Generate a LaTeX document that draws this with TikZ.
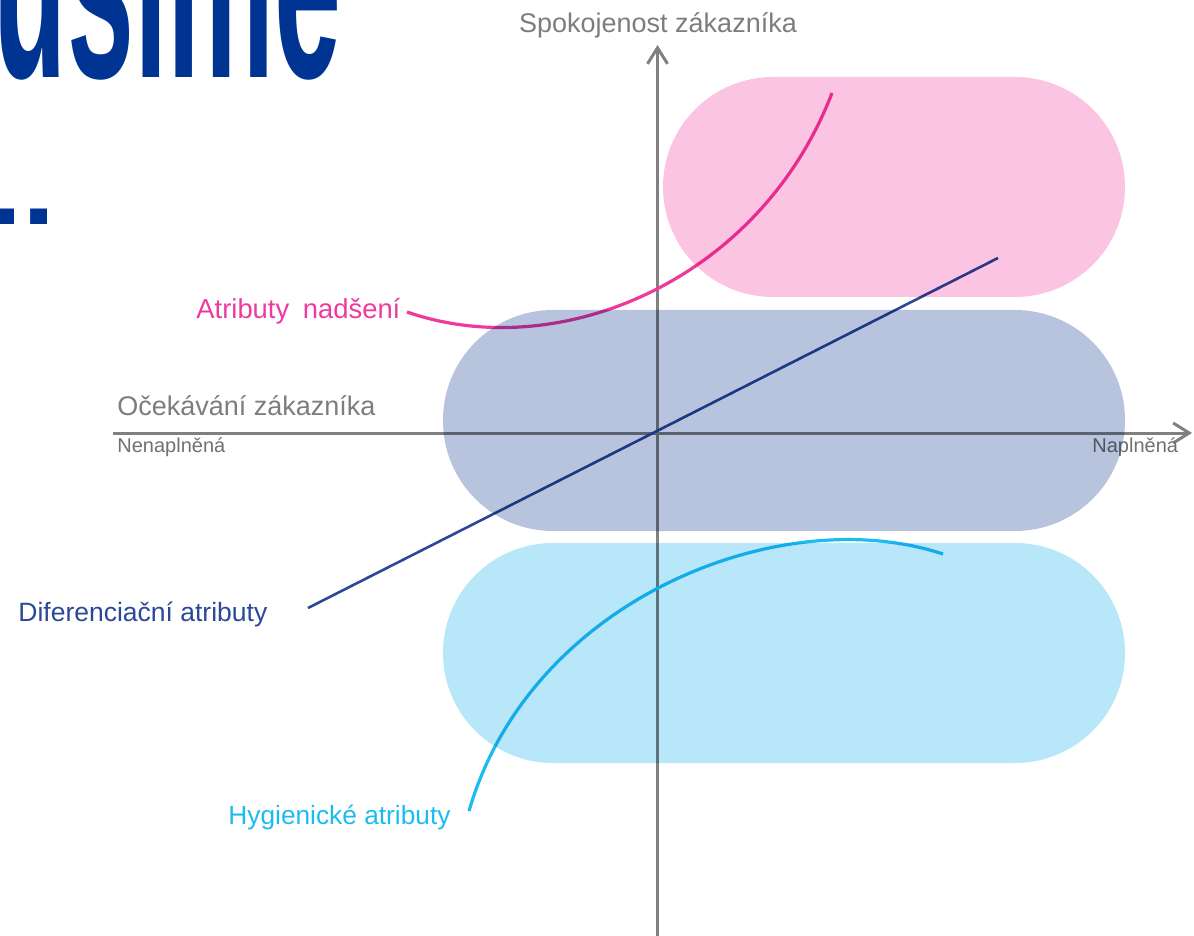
\documentclass[tikz,border=0pt]{standalone}
\usepackage{fontspec}
\setmainfont{Liberation Sans}
\usetikzlibrary{arrows.meta}
\definecolor{headblue}{RGB}{0,52,146}
\definecolor{axisgray}{RGB}{128,128,128}
\definecolor{txtgray}{RGB}{125,125,125}
\definecolor{delightpink}{RGB}{238,58,158}
\definecolor{perfblue}{RGB}{42,72,150}
\definecolor{hygcyan}{RGB}{27,189,240}
\definecolor{pillpink}{RGB}{250,196,226}
\definecolor{pillgray}{RGB}{184,196,222}
\definecolor{pillcyan}{RGB}{183,231,248}
\tikzset{
  axisline/.style={draw=axisgray, line width=1.5pt, -{Straight Barb[length=8pt,width=10pt,line width=1.5pt]}},
  lbl/.style={anchor=base west, inner sep=0pt, font=\fontsize{13.5pt}{16pt}\selectfont},
  smalllbl/.style={anchor=base west, inner sep=0pt, font=\fontsize{10pt}{12pt}\selectfont, text=txtgray!90!black},
  pill/.style={rounded corners=55pt},
}
\begin{document}
\begin{tikzpicture}[x=0.5pt,y=-0.5pt]
\useasboundingbox (0,0) rectangle (1194,936);
\clip (0,0) rectangle (1194,936);
% heading fragments
\node[anchor=base east, inner sep=0pt, text=headblue, font=\fontsize{140pt}{140pt}\selectfont\bfseries] (head) at (342,78) {\scalebox{0.43}[1]{Musíme}};
\node[anchor=base east, inner sep=0pt, text=headblue, font=\fontsize{52pt}{52pt}\selectfont\bfseries] (dots) at (56,225) {\scalebox{1.15}[1]{..}};
% axes
\coordinate (yb) at (657.5,945);
\coordinate (yt) at (657.5,45);
\coordinate (xl) at (113,433);
\coordinate (xr) at (1192,433);
\draw[axisline] (yb) -- (yt);
\draw[axisline] (xl) -- (xr);
% labels
\node[lbl, anchor=base, text=txtgray] (ylab) at (658,33) {Spokojenost zákazníka};
\node[lbl, text=txtgray] (xlab) at (117,415) {Očekávání zákazníka};
\node[smalllbl] (lo) at (117,452) {Nenaplněná};
\node[smalllbl] (hi) at (1092,452) {Naplněná};
\node[lbl, text=delightpink, font=\fontsize{13.7pt}{16pt}\selectfont] (delight) at (196,319) {Atributy\hspace{3pt} nadšení};
\node[lbl, text=perfblue, font=\fontsize{13.25pt}{16pt}\selectfont] (perf) at (18,621) {Diferenciační atributy};
\node[lbl, text=hygcyan, font=\fontsize{13.15pt}{16pt}\selectfont] (hyg) at (228,824) {Hygienické atributy};
% curves
\coordinate (dA) at (407,312);
\coordinate (dB) at (832,93);
\draw[delightpink, line width=1.6pt] (dA) .. controls (560,365) and (760,280) .. (dB);
\coordinate (pA) at (308,608);
\coordinate (pB) at (998,258);
\draw[perfblue, line width=1.3pt] (pA) -- (pB);
\coordinate (hA) at (469,811);
\coordinate (hB) at (943,554);
\draw[hygcyan, line width=1.6pt] (hA) .. controls (530,600) and (780,500) .. (hB);
% pills (multiplied over the lines)
\begin{scope}[blend mode=multiply]
\fill[pill, pillpink] (663,77) rectangle (1125,297);
\fill[pill, pillgray] (443,310) rectangle (1125,531);
\fill[pill, pillcyan] (443,543) rectangle (1125,763);
\end{scope}
\end{tikzpicture}
\end{document}
